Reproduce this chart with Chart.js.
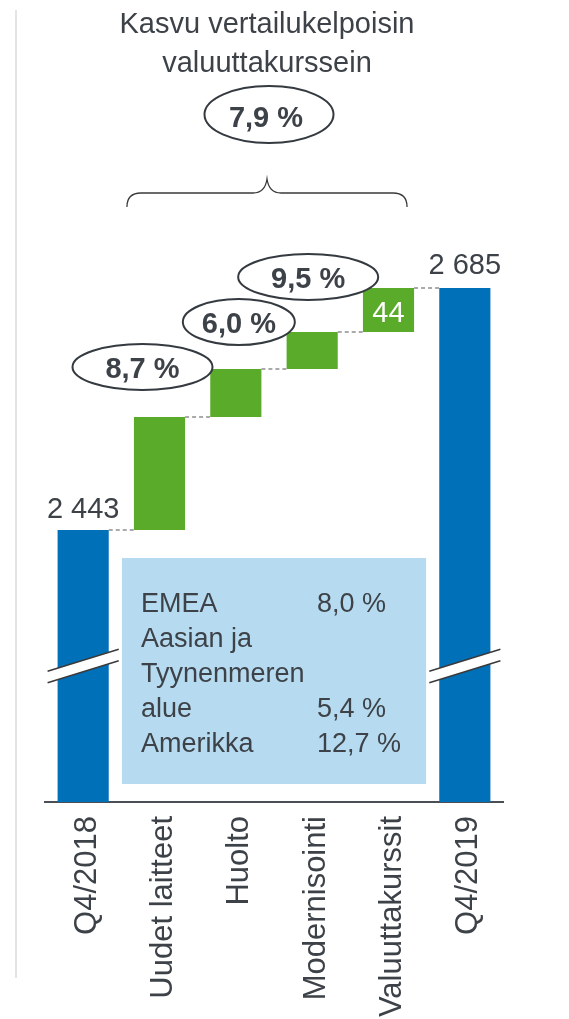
<!DOCTYPE html>
<html>
<head>
<meta charset="utf-8">
<script src="https://cdn.jsdelivr.net/npm/chart.js@4.4.1/dist/chart.umd.min.js"></script>
<style>
  html, body { margin: 0; padding: 0; background: #fff; }
  #wrap { width: 569px; height: 1019px; position: relative; }
</style>
</head>
<body>
<div id="wrap"><canvas id="chart"></canvas></div>
<script>
// data
const categories = ['Q4/2018', 'Uudet laitteet', 'Huolto', 'Modernisointi', 'Valuuttakurssit', 'Q4/2019'];
const startValue = 2443;
const endValue = 2685;
const changes = [113, 48, 37, 44];
const stepGrowth = ['8,7 %', '6,0 %', '9,5 %'];
const totalGrowth = '7,9 %';
const titleLines = ['Kasvu vertailukelpoisin', 'valuuttakurssein'];
const regionNames = ['EMEA', 'Aasian ja', 'Tyynenmeren', 'alue', 'Amerikka'];
const regionValues = ['8,0 %', '', '', '5,4 %', '12,7 %'];

// broken axis: the bars start from here
const axisMin = 2171;
const axisMax = 2733;

const FONT = "'Liberation Sans', Arial, sans-serif";
const TEXT = '#3d4248';
const BLUE = '#0070b9';
const GREEN = '#5aab2a';

// floating bars for the waterfall
const barData = [[axisMin, startValue]];
let running = startValue;
changes.forEach(c => {
  barData.push([running, running + c]);
  running += c;
});
barData.push([axisMin, endValue]);
const barColors = barData.map((d, i) => (i === 0 || i === barData.length - 1) ? BLUE : GREEN);

const fmt = v => String(v).replace(/\B(?=(\d{3})+(?!\d))/g, ' ');

// bubbles over the steps, placed relative to the bar they belong to
const bubbles = [
  { text: stepGrowth[0], idx: 1, dx: -17, dy: -50, rx: 70, ry: 23 },
  { text: stepGrowth[1], idx: 2, dx: 3, dy: -47, rx: 56, ry: 23 },
  { text: stepGrowth[2], idx: 3, dx: -4, dy: -55, rx: 70, ry: 23 }
];

function drawBreak(ctx, x1, x2, yc) {
  const rise = 22, gap = 11.5;
  ctx.save();
  ctx.fillStyle = '#fff';
  ctx.beginPath();
  ctx.moveTo(x1, yc + rise / 2 - gap / 2);
  ctx.lineTo(x2, yc - rise / 2 - gap / 2);
  ctx.lineTo(x2, yc - rise / 2 + gap / 2);
  ctx.lineTo(x1, yc + rise / 2 + gap / 2);
  ctx.closePath();
  ctx.fill();
  ctx.strokeStyle = '#3a3a3a';
  ctx.lineWidth = 1.5;
  [-gap / 2, gap / 2].forEach(o => {
    ctx.beginPath();
    ctx.moveTo(x1, yc + rise / 2 + o);
    ctx.lineTo(x2, yc - rise / 2 + o);
    ctx.stroke();
  });
  ctx.restore();
}

const overlay = {
  id: 'overlay',
  beforeDraw(chart) {
    const ctx = chart.ctx;
    ctx.save();
    ctx.strokeStyle = '#e4e4e4';
    ctx.lineWidth = 2;
    ctx.beginPath();
    ctx.moveTo(16, 10);
    ctx.lineTo(16, 978);
    ctx.stroke();
    ctx.restore();
  },
  afterDatasetsDraw(chart) {
    const ctx = chart.ctx;
    const y = chart.scales.y;
    const area = chart.chartArea;
    const bars = chart.getDatasetMeta(0).data;
    const last = bars.length - 1;

    // dashed connectors between bars
    ctx.save();
    ctx.strokeStyle = '#8f8f8f';
    ctx.lineWidth = 1.5;
    ctx.setLineDash([4, 3]);
    for (let i = 0; i < last; i++) {
      const level = i === last - 1 ? endValue : barData[i][1];
      const py = y.getPixelForValue(level);
      ctx.beginPath();
      ctx.moveTo(bars[i].x + bars[i].width / 2, py);
      ctx.lineTo(bars[i + 1].x - bars[i + 1].width / 2, py);
      ctx.stroke();
    }
    ctx.restore();

    // value labels
    ctx.save();
    ctx.font = '29px ' + FONT;
    ctx.fillStyle = TEXT;
    ctx.textAlign = 'center';
    ctx.textBaseline = 'alphabetic';
    ctx.fillText(fmt(startValue), bars[0].x, bars[0].y - 12);
    ctx.fillText(fmt(endValue), bars[last].x, bars[last].y - 14);
    const fx = bars[last - 1];
    ctx.fillStyle = '#fff';
    ctx.fillText(fmt(changes[changes.length - 1]), fx.x, (fx.y + fx.base) / 2 + 12);
    ctx.restore();

    // growth bubbles
    ctx.save();
    bubbles.forEach(b => {
      const bar = bars[b.idx];
      const cx = bar.x + b.dx, cy = bar.y + b.dy;
      ctx.beginPath();
      ctx.ellipse(cx, cy, b.rx, b.ry, 0, 0, Math.PI * 2);
      ctx.fillStyle = '#fff';
      ctx.fill();
      ctx.strokeStyle = '#343a40';
      ctx.lineWidth = 2;
      ctx.stroke();
      ctx.font = 'bold 29px ' + FONT;
      ctx.fillStyle = TEXT;
      ctx.textAlign = 'center';
      ctx.fillText(b.text, cx, cy + 11);
    });
    ctx.restore();

    // axis breaks on the total bars
    const breakY = area.bottom - 136;
    [bars[0], bars[last]].forEach(b => {
      drawBreak(ctx, b.x - b.width / 2 - 10, b.x + b.width / 2 + 10, breakY);
    });

    // region box
    const boxL = bars[1].x - bars[1].width / 2 - 12;
    const boxR = bars[last - 1].x + bars[last - 1].width / 2 + 12;
    const boxT = area.bottom - 244, boxB = area.bottom - 18;
    ctx.save();
    ctx.fillStyle = '#b6daef';
    ctx.fillRect(boxL, boxT, boxR - boxL, boxB - boxT);
    ctx.font = '27px ' + FONT;
    ctx.fillStyle = TEXT;
    ctx.textAlign = 'left';
    regionNames.forEach((name, i) => {
      const ty = boxT + 54 + i * 35;
      ctx.fillText(name, boxL + 19, ty);
      if (regionValues[i]) ctx.fillText(regionValues[i], boxL + 195, ty);
    });
    ctx.restore();

    // title, brace and total growth
    const cx = (bars[1].x - bars[1].width / 2 + bars[last - 1].x + bars[last - 1].width / 2) / 2 - 7;
    ctx.save();
    ctx.font = '29px ' + FONT;
    ctx.fillStyle = TEXT;
    ctx.textAlign = 'center';
    ctx.fillText(titleLines[0], cx, 33);
    ctx.fillText(titleLines[1], cx, 72);

    ctx.beginPath();
    ctx.ellipse(cx + 2, 114.5, 64.5, 28.5, 0, 0, Math.PI * 2);
    ctx.strokeStyle = '#343a40';
    ctx.lineWidth = 2;
    ctx.stroke();
    ctx.font = 'bold 29px ' + FONT;
    ctx.fillText(totalGrowth, cx - 1, 127);

    const bl = bars[1].x - bars[1].width / 2 - 7;
    const br = bars[last - 1].x + bars[last - 1].width / 2 - 7;
    ctx.beginPath();
    ctx.moveTo(bl, 207);
    ctx.quadraticCurveTo(bl, 193, bl + 14, 193);
    ctx.lineTo(cx - 14, 193);
    ctx.quadraticCurveTo(cx - 2, 193, cx, 179);
    ctx.quadraticCurveTo(cx + 2, 193, cx + 14, 193);
    ctx.lineTo(br - 14, 193);
    ctx.quadraticCurveTo(br, 193, br, 207);
    ctx.strokeStyle = '#3a3a3a';
    ctx.lineWidth = 1.3;
    ctx.stroke();
    ctx.restore();
  }
};

new Chart(document.getElementById('chart'), {
  type: 'bar',
  data: {
    labels: categories,
    datasets: [{
      data: barData,
      backgroundColor: barColors,
      borderWidth: 0,
      categoryPercentage: 1,
      barPercentage: 0.67
    }]
  },
  options: {
    responsive: true,
    maintainAspectRatio: false,
    animation: false,
    layout: { padding: { top: 240, left: 45, right: 66, bottom: 0 } },
    plugins: { legend: { display: false }, tooltip: { enabled: false } },
    scales: {
      x: {
        grid: { display: false },
        border: { display: true, color: '#4a4f55', width: 2 },
        ticks: {
          color: TEXT,
          font: { family: FONT, size: 31 },
          minRotation: 90,
          maxRotation: 90,
          autoSkip: false,
          padding: 6,
          labelOffset: 4
        },
        afterFit: scale => { scale.height = 217; }
      },
      y: {
        display: false,
        min: axisMin,
        max: axisMax
      }
    }
  },
  plugins: [overlay]
});
</script>
</body>
</html>
